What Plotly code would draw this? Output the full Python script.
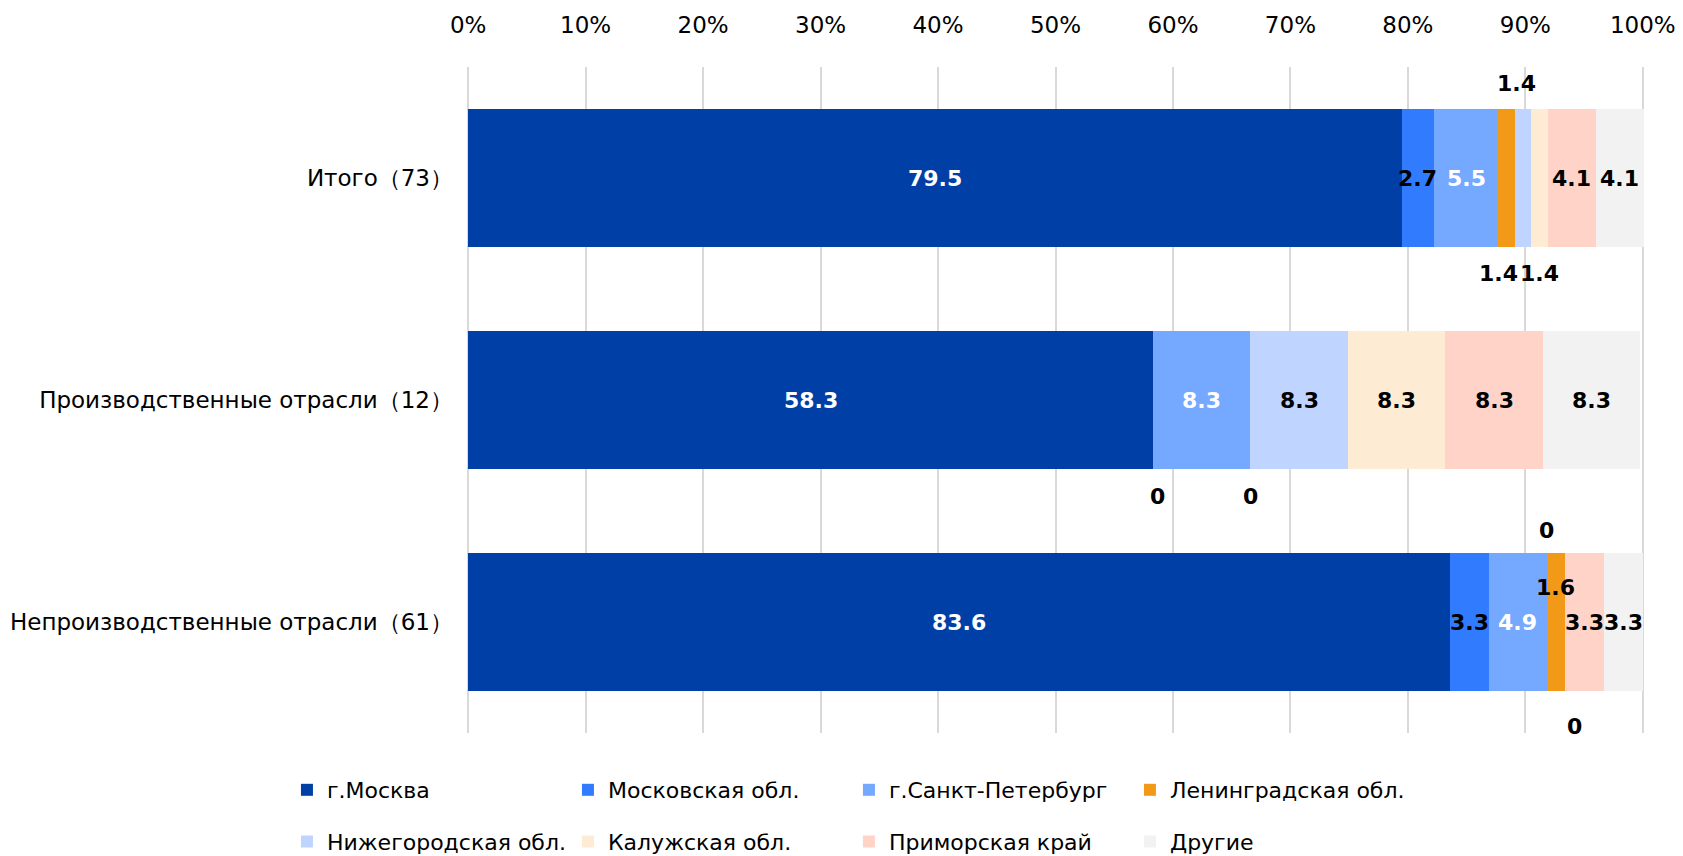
import plotly.graph_objects as go

# shares of companies by region, %
categories = ["Итого（73）", "Производственные отрасли（12）", "Непроизводственные отрасли（61）"]
series_names = ["г.Москва", "Московская обл.", "г.Санкт-Петербург", "Ленинградская обл.",
                "Нижегородская обл.", "Калужская обл.", "Приморская край", "Другие"]
moscow = [79.5, 58.3, 83.6]
moscow_obl = [2.7, 0, 3.3]
spb = [5.5, 8.3, 4.9]
lenobl = [1.4, 0, 1.6]
nizhny = [1.4, 8.3, 0]
kaluga = [1.4, 8.3, 0]
primorye = [4.1, 8.3, 3.3]
others = [4.1, 8.3, 3.3]
tick_vals = [0, 10, 20, 30, 40, 50, 60, 70, 80, 90, 100]
tick_text = ["0%", "10%", "20%", "30%", "40%", "50%", "60%", "70%", "80%", "90%", "100%"]

series = [moscow, moscow_obl, spb, lenobl, nizhny, kaluga, primorye, others]
colors = ["#003FA5", "#317BFF", "#75A8FF", "#F29A18", "#BFD4FF", "#FDEBD3", "#FFD3C7", "#F2F2F2"]
text_colors = ["white", "black", "white", "black", "black", "black", "black", "black"]

# labels that sit outside their segment: (row, series) -> (xshift, yshift)
label_shift = {
    (0, 3): (10, 95), (0, 4): (-25, -95), (0, 5): (0, -95),
    (1, 1): (4, -96), (1, 3): (0, -96),
    (2, 3): (0, 35), (2, 4): (-19, 92), (2, 5): (9, -104),
}

FONT = "DejaVu Sans, Verdana, sans-serif"

fig = go.Figure()
for i, (name, vals) in enumerate(zip(series_names, series)):
    fig.add_trace(go.Bar(
        name=name, y=categories, x=vals, orientation="h",
        marker=dict(color=colors[i], line=dict(width=0)),
        legend="legend" if i < 4 else "legend2",
        hoverinfo="x+name",
    ))

annotations = []
for r, cat in enumerate(categories):
    start = 0
    for i, vals in enumerate(series):
        v = vals[r]
        center = start + v / 2
        start += v
        dx, dy = label_shift.get((r, i), (0, 0))
        annotations.append(dict(
            x=center, y=cat, xref="x", yref="y", text=f"{v:g}", showarrow=False,
            xshift=dx, yshift=dy,
            font=dict(family=FONT, size=22, weight="bold",
                      color=text_colors[i] if (r, i) not in label_shift else "black"),
        ))

legend_style = dict(
    orientation="h", xref="container", yref="container", xanchor="left", yanchor="middle",
    font=dict(family=FONT, size=22, color="black"), entrywidth=236, entrywidthmode="pixels",
    itemclick=False, itemdoubleclick=False, traceorder="normal", bgcolor="rgba(0,0,0,0)",
)

fig.update_layout(
    barmode="stack",
    bargap=0.374,
    width=1683, height=856,
    margin=dict(l=467, r=39, t=67, b=123, autoexpand=False),
    paper_bgcolor="white", plot_bgcolor="white",
    font=dict(family=FONT, size=23, color="black"),
    annotations=annotations,
    legend=dict(x=0.1705, y=0.0771, **legend_style),
    legend2=dict(x=0.1705, y=0.0166, **legend_style),
    xaxis=dict(
        side="top", range=[-0.1, 100.1], tickvals=tick_vals, ticktext=tick_text,
        showgrid=True, gridcolor="#D9D9D9", gridwidth=2,
        zeroline=True, zerolinecolor="#D9D9D9", zerolinewidth=2,
        showline=False, ticks="", ticklabelstandoff=28, automargin=False,
        ticklabeloverflow="allow",
        tickfont=dict(family=FONT, size=23, color="black"),
    ),
    yaxis=dict(
        autorange="reversed", showgrid=False, zeroline=False, showline=False,
        ticks="", ticklabelstandoff=13, automargin=False,
        tickfont=dict(family=FONT, size=23, color="black"),
    ),
)

# drop the default 8px body margin so the figure fills the window exactly
fig.write_html("out.html", config={"displayModeBar": False},
               post_script="document.body.style.margin='0';")
